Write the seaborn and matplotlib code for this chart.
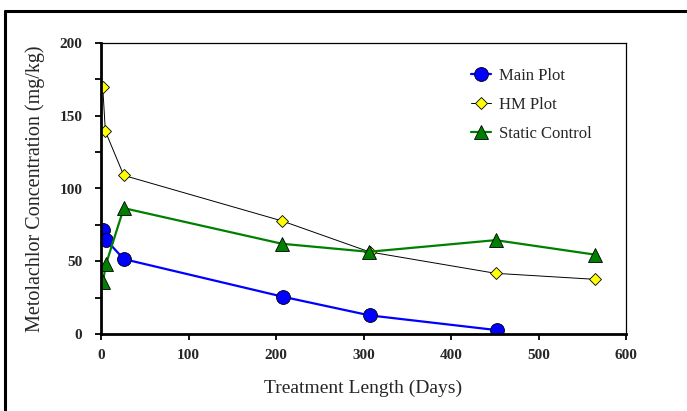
import matplotlib
matplotlib.use("Agg")
import matplotlib.pyplot as plt
from matplotlib.lines import Line2D
from matplotlib.ticker import MultipleLocator
import seaborn as sns

# Data
main_days = [2, 6, 26, 208, 307, 452]
main_conc = [71.5, 64.6, 51.5, 25.6, 12.8, 2.7]

hm_days = [2, 5, 26, 207, 307, 451, 564]
hm_conc = [169.5, 139.3, 109, 77.7, 56.4, 41.7, 37.6]

static_days = [2, 5.7, 26, 207, 306, 451, 565]
static_conc = [35.5, 48, 86.5, 62, 56.5, 64.5, 54.5]

series_labels = ["Main Plot", "HM Plot", "Static Control"]
x_ticks = [0, 100, 200, 300, 400, 500, 600]

sns.set_style("ticks")
plt.rcParams["font.family"] = ["Liberation Serif", "DejaVu Serif"]

fig = plt.figure(figsize=(6.87, 4.11), dpi=100)
ax = fig.add_axes([101 / 687, 77 / 411, 525 / 687, 291 / 411])

sns.lineplot(x=main_days, y=main_conc, ax=ax, color="#0000ff", linewidth=1.6,
             marker="o", markersize=10, markerfacecolor="#0000ff",
             markeredgecolor="black", markeredgewidth=0.6, label=series_labels[0])
sns.lineplot(x=hm_days, y=hm_conc, ax=ax, color="black", linewidth=0.7,
             marker="D", markersize=6.5, markerfacecolor="#ffff00",
             markeredgecolor="black", markeredgewidth=0.6, label=series_labels[1])
sns.lineplot(x=static_days, y=static_conc, ax=ax, color="#008000", linewidth=1.6,
             marker="^", markersize=10, markerfacecolor="#008000",
             markeredgecolor="black", markeredgewidth=0.6, label=series_labels[2])

ax.set_xlim(0, 600)
ax.set_ylim(0, 200)
ax.set_xticks(x_ticks)
ax.yaxis.set_major_locator(MultipleLocator(50))
ax.yaxis.set_minor_locator(MultipleLocator(25))
ax.tick_params(axis="both", which="both", direction="out", length=4.5, width=1.3,
               color="black")
ax.tick_params(axis="x", pad=6)
ax.tick_params(axis="y", pad=9)
for lab in ax.get_xticklabels() + ax.get_yticklabels():
    lab.set_fontsize(11)
    lab.set_fontweight("bold")

for side in ["left", "bottom"]:
    ax.spines[side].set_linewidth(2.0)
    ax.spines[side].set_color("black")
for side in ["top", "right"]:
    ax.spines[side].set_visible(True)
    ax.spines[side].set_linewidth(0.9)
    ax.spines[side].set_color("black")

ax.set_xlabel("Treatment Length (Days)", fontsize=14, labelpad=13)
ax.set_ylabel("Metolachlor Concentration (mg/kg)", fontsize=14.5, labelpad=10)

ax.legend(loc="upper left", bbox_to_anchor=(0.705, 0.913), frameon=False,
          fontsize=12, labelspacing=0.78, handlelength=1.2, handletextpad=0.45,
          borderpad=0, borderaxespad=0)

# outer frame (only top and left edges visible in the crop)
fig.add_artist(Line2D([5 / 687, 1], [1 - 11 / 411, 1 - 11 / 411],
                      transform=fig.transFigure, color="black", linewidth=2.2))
fig.add_artist(Line2D([5 / 687, 5 / 687], [0, 1 - 11 / 411],
                      transform=fig.transFigure, color="black", linewidth=2.2))

fig.savefig("out.png", dpi=100)
